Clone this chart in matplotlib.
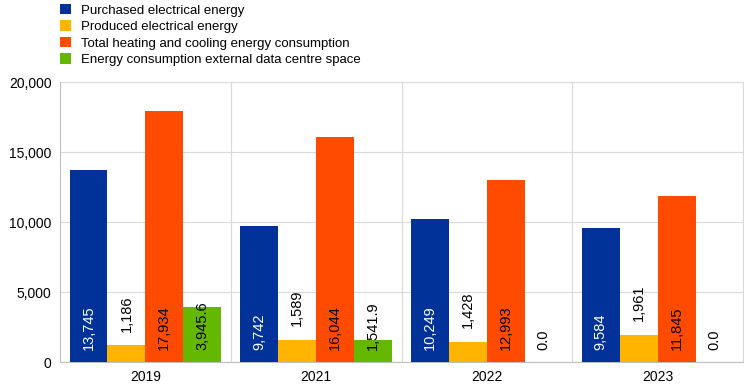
import matplotlib.pyplot as plt
import numpy as np

plt.rcParams['font.family'] = ['Liberation Sans', 'DejaVu Sans']

years = ["2019", "2021", "2022", "2023"]
series_names = [
    "Purchased electrical energy",
    "Produced electrical energy",
    "Total heating and cooling energy consumption",
    "Energy consumption external data centre space",
]
purchased = [13745, 9742, 10249, 9584]
produced = [1186, 1589, 1428, 1961]
heating = [17934, 16044, 12993, 11845]
datacentre = [3945.6, 1541.9, 0.0, 0.0]

colors = ["#003299", "#FFB400", "#FF4B00", "#65B800"]


def fmt_int(v):
    return f"{v:,.0f}"


def fmt_dec(v):
    return f"{v:,.1f}"


fig = plt.figure(figsize=(7.44, 3.90), dpi=100)
ax = fig.add_axes([60 / 744, 28 / 390, 683 / 744, 280 / 390])

x = np.arange(len(years))
width = 0.222
series = [purchased, produced, heating, datacentre]
formats = [fmt_int, fmt_int, fmt_int, fmt_dec]
text_colors = ["white", "black", "black", "black"]

for i, (vals, name) in enumerate(zip(series, series_names)):
    pos = x + (i - 1.5) * width
    ax.bar(pos, vals, width=width, color=colors[i], label=name, zorder=3)
    for p, v in zip(pos, vals):
        label = formats[i](v)
        if i == 1:
            # produced energy: label sits above the bar
            ax.annotate(label, (p, v), xytext=(0, 10), textcoords="offset points",
                        rotation=90, ha="center", va="bottom", fontsize=10.5,
                        color="black", zorder=4)
        else:
            ax.annotate(label, (p, 0), xytext=(0, 9), textcoords="offset points",
                        rotation=90, ha="center", va="bottom", fontsize=10.5,
                        color=text_colors[i], zorder=4)

ax.set_xlim(-0.5, len(years) - 0.5)
ax.set_ylim(0, 20000)
ax.set_yticks(np.arange(0, 20001, 5000))
ax.set_yticklabels([f"{t:,}" for t in range(0, 20001, 5000)], fontsize=10)
ax.set_xticks(x)
ax.set_xticklabels(years, fontsize=10)
ax.tick_params(length=0, pad=6)

ax.yaxis.grid(True, color="#d9d9d9", linewidth=0.8, zorder=0)
for b in np.arange(0.5, len(years) - 0.5, 1):
    ax.axvline(b, color="#d9d9d9", linewidth=0.8, zorder=0)

ax.spines["top"].set_visible(False)
ax.spines["right"].set_color("#d9d9d9")
ax.spines["left"].set_color("#bfbfbf")
ax.spines["bottom"].set_color("#bfbfbf")

fig.legend(loc="upper left", bbox_to_anchor=(55 / 744, 1.004), frameon=False,
           fontsize=9.5, handlelength=0.85, handleheight=0.85, labelspacing=0.28,
           handletextpad=0.75, borderaxespad=0)

fig.savefig("out.png", dpi=100)
